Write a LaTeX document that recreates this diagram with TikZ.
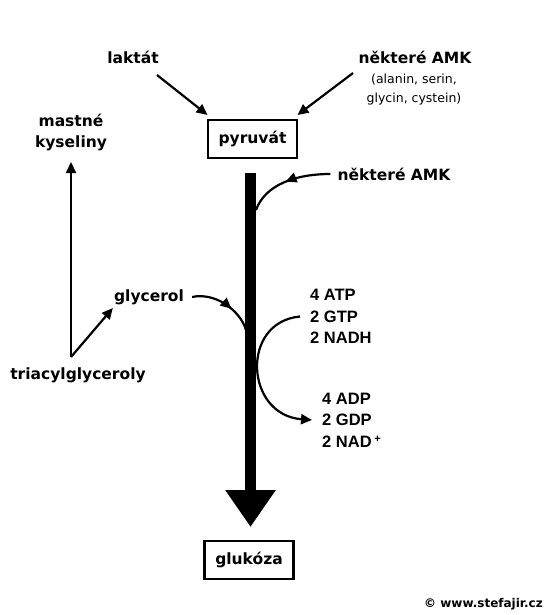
\documentclass[tikz,border=0pt]{standalone}
\usepackage{fontspec}
\setmainfont{DejaVu Sans}
\newfontfamily\arialfont{Liberation Sans}
\usetikzlibrary{arrows.meta,decorations.markings}
\tikzset{
  lbl/.style={inner sep=0pt, font=\bfseries\fontsize{15.5}{21}\selectfont, align=center},
  small/.style={inner sep=0pt, font=\fontsize{12.5}{19}\selectfont, align=center},
  nums/.style={inner sep=0pt, font=\arialfont\bfseries\fontsize{16.5}{21.5}\selectfont, align=left},
  box/.style={draw, line width=2.2pt, minimum width=89pt, minimum height=38pt, inner sep=0pt, font=\bfseries\fontsize{15.5}{18}\selectfont},
  arr/.style={line width=2.2pt, -{Triangle[length=11pt,width=10pt]}},
  conn/.style={line width=2.2pt},
  midarr/.style={conn, decoration={markings, mark=at position #1 with {\arrow{Triangle[length=11pt,width=10pt]}}}, postaction=decorate},
  bigarr/.style={line width=11pt, -{Triangle[length=37pt,width=48pt]}}
}
\begin{document}
\begin{tikzpicture}[x=1pt,y=-1pt]
\useasboundingbox (0,0) rectangle (550,615);
\fill[white] (0,0) rectangle (550,615);
% nodes
\node[box] (pyr) at (252.5,139) {pyruvát};
\node[box] (glu) at (249,560) {glukóza};
\node[lbl] (lak) at (133,57) {laktát};
\node[lbl] (amk1) at (415,57) {některé AMK};
\node[small] (ala) at (414,89.5) {(alanin, serin,\\glycin, cystein)};
\node[lbl] (amk2) at (394,174) {některé AMK};
\node[lbl] (mk) at (71,132.5) {mastné\\kyseliny};
\node[lbl] (tag) at (78,375) {triacylglyceroly};
\node[lbl] (gly) at (149,297) {glycerol};
\node[nums, anchor=west] (atp) at (310,316.5) {4 ATP\\2 GTP\\2 NADH};
\node[nums, anchor=west] (adp) at (322,420) {4 ADP\\2 GDP\\2 NAD\,\raisebox{0.55ex}{\fontsize{11}{11}\selectfont +}};
\node[inner sep=0pt, anchor=east, font=\bfseries\fontsize{12}{14}\selectfont] (copy) at (543,604) {© www.stefajir.cz};
\coordinate (fork) at (71,357);
\coordinate (bartop) at (250.5,173);
\coordinate (barend) at (250.5,527);
% main thick arrow
\draw[bigarr] (bartop) -- (barend);
% inputs to pyruvate
\draw[arr] ([shift={(24,18)}]lak.center) -- ([shift={(-45,-24)}]pyr.center);
\draw[arr] ([shift={(-62,16)}]amk1.center) -- ([shift={(45,-24)}]pyr.center);
% some AMK into the bar
\draw[midarr=0.52] ([xshift=-7pt]amk2.west) .. controls (295,174) and (265,185) .. (256,210);
% glycerol into the bar
\draw[midarr=0.62] ([xshift=8pt]gly.east) .. controls (215,292) and (240,310) .. (246,330);
% triacylglycerols
\draw[arr] (fork) -- (71,162);
\draw[arr] (fork) -- ([shift={(-1,11)}]gly.west);
% ATP -> ADP arc
\draw[arr] ([xshift=-10pt]atp.west) .. controls (240,322) and (245,415) .. ([xshift=-10pt]adp.west);
\end{tikzpicture}
\end{document}
